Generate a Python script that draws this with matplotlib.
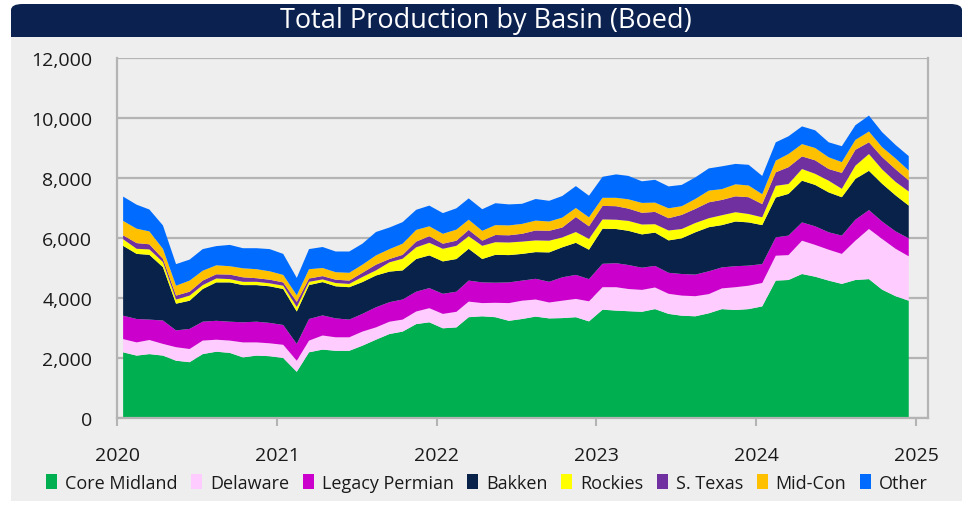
import numpy as np
import pandas as pd
import matplotlib.pyplot as plt
import matplotlib.dates as mdates
from matplotlib.patches import FancyBboxPatch, Rectangle, Patch
from matplotlib.ticker import FuncFormatter

plt.rcParams['font.family'] = ['Open Sans', 'DejaVu Sans']

# monthly points, Jan 2020 - Dec 2024 (plotted mid-month)
months = pd.date_range('2020-01-01', periods=60, freq='MS') + pd.Timedelta(days=14)

basins = ['Core Midland', 'Delaware', 'Legacy Permian', 'Bakken',
          'Rockies', 'S. Texas', 'Mid-Con', 'Other']
colors = ['#00b050', '#ffccff', '#cc00cc', '#08224a',
          '#ffff00', '#7030a0', '#ffc000', '#006cff']

core_midland = [2190, 2080, 2130, 2080, 1910, 1860, 2130, 2210, 2170, 2020,
                2080, 2060, 2000, 1540, 2190, 2280, 2240, 2240, 2410, 2610,
                2800, 2880, 3130, 3190, 2990, 3020, 3360, 3390, 3360, 3240,
                3300, 3380, 3320, 3330, 3360, 3220, 3610, 3580, 3560, 3540,
                3630, 3470, 3410, 3390, 3490, 3630, 3600, 3630, 3720, 4580,
                4600, 4800, 4710, 4580, 4470, 4600, 4630, 4280, 4060, 3910]
delaware = [440, 440, 470, 390, 450, 440, 450, 400, 410, 500,
            440, 430, 440, 370, 390, 470, 450, 450, 470, 410,
            410, 400, 420, 470, 480, 520, 520, 440, 480, 590,
            610, 570, 530, 580, 610, 670, 750, 780, 740, 730,
            720, 670, 670, 670, 640, 690, 760, 780, 780, 830,
            830, 1110, 1060, 1030, 1000, 1310, 1670, 1690, 1580, 1480]
legacy_permian = [780, 780, 680, 780, 560, 670, 630, 630, 630, 670,
                  690, 680, 660, 560, 720, 670, 630, 590, 590, 670,
                  650, 670, 660, 670, 670, 670, 700, 690, 670, 690,
                  670, 690, 690, 780, 800, 740, 780, 800, 800, 740,
                  720, 700, 720, 720, 760, 700, 700, 670, 630, 610,
                  650, 610, 620, 580, 610, 700, 630, 580, 580, 600]
bakken = [2330, 2170, 2160, 1780, 890, 940, 1090, 1280, 1310, 1240,
          1220, 1220, 1200, 1080, 1130, 1110, 1070, 1080, 1060, 1060,
          1020, 970, 1090, 1090, 1080, 1090, 1060, 780, 930, 910,
          890, 890, 980, 1000, 1070, 980, 1170, 1140, 1140, 1110,
          1110, 1080, 1190, 1410, 1470, 1410, 1490, 1440, 1300, 1330,
          1390, 1390, 1380, 1330, 1280, 1360, 1310, 1260, 1200, 1090]
rockies = [220, 170, 180, 170, 140, 170, 130, 130, 110, 110,
           110, 100, 110, 150, 110, 90, 110, 110, 170, 170,
           310, 390, 390, 420, 420, 440, 420, 440, 420, 420,
           410, 390, 390, 330, 360, 360, 310, 310, 330, 330,
           280, 330, 310, 310, 300, 330, 310, 280, 260, 390,
           330, 390, 370, 390, 280, 440, 560, 480, 450, 470]
s_texas = [130, 190, 170, 110, 130, 130, 150, 140, 150, 150,
           120, 120, 110, 170, 110, 110, 110, 110, 140, 190,
           110, 130, 190, 220, 170, 170, 210, 170, 240, 240,
           260, 330, 330, 330, 500, 420, 450, 450, 410, 390,
           410, 410, 470, 470, 530, 510, 530, 560, 440, 450,
           560, 420, 450, 390, 530, 530, 390, 410, 420, 370]
mid_con = [480, 480, 430, 330, 330, 370, 330, 300, 280, 300,
           300, 280, 250, 220, 310, 270, 250, 260, 270, 310,
           330, 370, 390, 330, 330, 370, 340, 330, 330, 330,
           330, 330, 310, 330, 300, 300, 270, 280, 310, 330,
           310, 330, 290, 330, 390, 360, 400, 390, 330, 390,
           440, 410, 410, 390, 360, 330, 360, 330, 360, 330]
other = [810, 800, 730, 780, 720, 700, 720, 640, 710, 670,
         700, 740, 700, 580, 670, 700, 690, 710, 700, 780,
         720, 720, 670, 690, 690, 710, 710, 720, 730, 700,
         670, 720, 690, 720, 730, 720, 700, 780, 780, 720,
         760, 730, 710, 720, 740, 760, 680, 690, 610, 610,
         590, 590, 590, 500, 530, 490, 530, 500, 450, 480]

series = [core_midland, delaware, legacy_permian, bakken,
          rockies, s_texas, mid_con, other]

W, H = 972, 506
fig = plt.figure(figsize=(W / 100, H / 100), dpi=100)
fig.patch.set_facecolor('white')

# grey panel + navy title banner
fig.patches.append(Rectangle((11 / W, 4 / H), 951 / W, 480 / H, transform=fig.transFigure,
                             facecolor='#eeeeee', edgecolor='none', zorder=-2))
fig.patches.append(FancyBboxPatch((11 / W, (H - 38) / H), 951 / W, 33 / H,
                                  boxstyle='round,pad=0,rounding_size=0.012',
                                  transform=fig.transFigure, facecolor='#0b2150',
                                  edgecolor='none', zorder=-1))
fig.patches.append(Rectangle((11 / W, (H - 38) / H), 951 / W, 14 / H, transform=fig.transFigure,
                             facecolor='#0b2150', edgecolor='none', zorder=-1))
fig.text(486 / W, (H - 21) / H, 'Total Production by Basin (Boed)', color='white',
         fontsize=19.5, ha='center', va='center')

ax = fig.add_axes([117 / W, (H - 419) / H, (928 - 117) / W, 360 / H])
ax.set_zorder(2)
ax.set_facecolor('#eeeeee')

ax.stackplot(months, *series, colors=colors, labels=basins, linewidth=0)

ax.set_ylim(0, 12000)
ax.set_yticks(range(0, 12001, 2000))
ax.yaxis.set_major_formatter(FuncFormatter(lambda v, p: f'{int(v):,}'))
ax.set_xlim(pd.Timestamp('2020-01-01'), pd.Timestamp('2025-01-28'))
ax.set_xticks([pd.Timestamp(f'{y}-01-01') for y in range(2020, 2026)])
ax.xaxis.set_major_formatter(mdates.DateFormatter('%Y'))

grey = '#b4b4b4'
ax.grid(axis='y', color=grey, linewidth=1.6)
ax.set_axisbelow(True)
for side in ['left', 'bottom', 'right']:
    ax.spines[side].set_color(grey)
    ax.spines[side].set_linewidth(1.6)
ax.spines['top'].set_visible(False)
ax.tick_params(axis='y', length=0, pad=18, labelsize=14, labelcolor='#1a1a1a')
ax.tick_params(axis='x', length=6, width=1.5, color=grey, pad=14,
               labelsize=14, labelcolor='#1a1a1a')

handles = [Patch(facecolor=c, edgecolor='none') for c in colors]
fig.legend(handles, basins, loc='center', bbox_to_anchor=(487 / W, 22 / H), ncol=8,
           frameon=False, fontsize=13, handlelength=0.6, handleheight=0.9,
           handletextpad=0.45, columnspacing=0.75, labelcolor='#1a1a1a')

fig.savefig('out.png', dpi=100)
